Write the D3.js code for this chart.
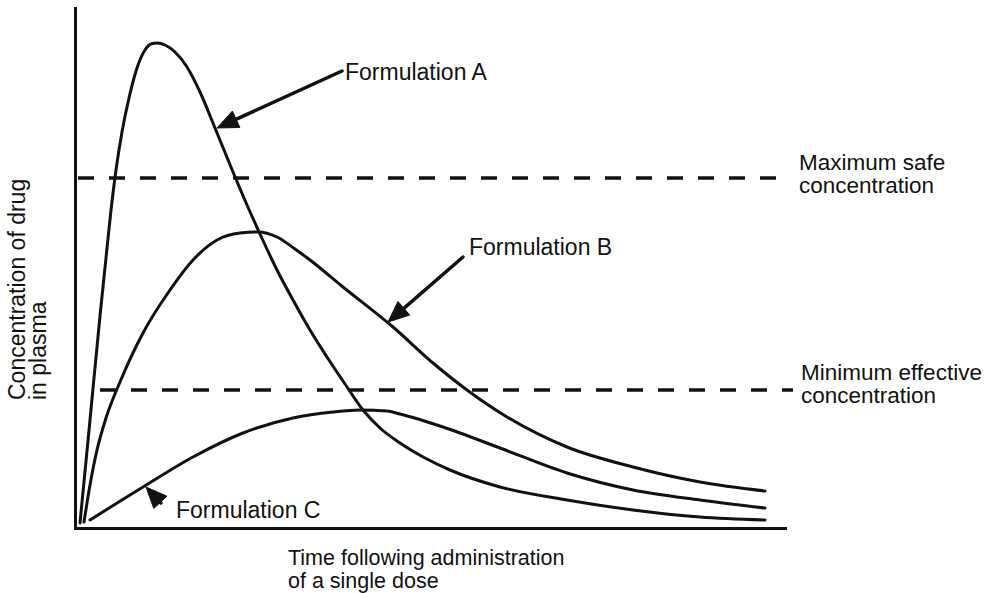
<!DOCTYPE html>
<html>
<head>
<meta charset="utf-8">
<script src="https://cdn.jsdelivr.net/npm/d3@7"></script>
<style>
  html, body { margin: 0; padding: 0; background: #fff; }
  svg { display: block; }
  text { font-family: "Liberation Sans", Arial, Helvetica, sans-serif; font-size: 22px; fill: #111; }
  .callout { font-size: 23px; }
  .threshold-label { font-size: 22.5px; }
  .y-title { font-size: 23px; }
  .x-title { font-size: 21.5px; }
</style>
</head>
<body>
<svg id="chart" width="993" height="593"></svg>
<script>
// Plasma concentration vs time after a single dose, [time, concentration] in arbitrary units
const formulationA = [
  [0.5, 0.5], [1.5, 10.8], [2.5, 21.2], [3.1, 27.0], [3.6, 31.8], [4.1, 35.8],
  [4.7, 39.6], [5.4, 43.0], [6.2, 46.0], [7.0, 47.8], [7.6, 48.4], [8.2, 48.5],
  [9.0, 48.3], [10.0, 47.6], [11.2, 46.1], [12.5, 43.6], [14.0, 40.0], [15.8, 35.6],
  [17.2, 32.3], [18.5, 29.4], [20.2, 25.8], [21.8, 22.8], [23.5, 19.8], [25.2, 17.1],
  [27.0, 14.4], [28.8, 11.8], [30.5, 10.0], [32.5, 8.5], [35.0, 7.0], [37.5, 5.8],
  [42.5, 4.1], [49.2, 2.8], [55.8, 1.8], [62.5, 1.1], [69.0, 0.8]
];
const formulationB = [
  [0.9, 0.6], [1.5, 4.3], [2.2, 7.8], [3.1, 11.0], [4.5, 14.6], [6.8, 19.5],
  [9.5, 23.8], [11.8, 26.8], [14.2, 28.8], [16.5, 29.5], [18.3, 29.6], [20.2, 29.1],
  [22.0, 27.9], [23.5, 26.8], [26.8, 24.1], [31.8, 20.1], [35.8, 16.5], [39.2, 13.8],
  [43.2, 11.1], [49.2, 8.1], [55.8, 6.1], [62.5, 4.6], [69.0, 3.7]
];
const formulationC = [
  [1.5, 0.8], [6.8, 4.1], [11.8, 7.1], [16.8, 9.5], [21.8, 11.0], [25.8, 11.6],
  [28.5, 11.8], [31.2, 11.7], [32.5, 11.4], [36.8, 10.1], [42.5, 8.0], [49.2, 5.5],
  [55.8, 3.8], [62.5, 2.8], [69.0, 2.0]
];

// Therapeutic window limits and the span each dashed line covers
const thresholds = [
  { level: 35.0, from: 0.3, to: 70.7, label: ["Maximum safe", "concentration"], labelAt: [72.4, 35.8] },
  { level: 13.8, from: 2.5, to: 71.8, label: ["Minimum effective", "concentration"], labelAt: [72.6, 14.8] }
];

// Callouts: text position, arrow tail and arrow tip (on the curve)
const callouts = [
  { text: "Formulation A", at: [27.0, 44.8], tail: [26.7, 45.7], tip: [14.2, 40.0] },
  { text: "Formulation B", at: [39.4, 27.3], tail: [38.8, 27.1], tip: [31.3, 20.6] },
  { text: "Formulation C", at: [10.1, 1.0], tail: [8.6, 2.5], tip: [7.1, 4.1] }
];

const xTitle = ["Time following administration", "of a single dose"];
const yTitle = ["Concentration of drug", "in plasma"];

const svg = d3.select("#chart");
const ink = "#111";

svg.append("rect").attr("width", 993).attr("height", 593).attr("fill", "#fff");

const x = d3.scaleLinear().domain([0, 71]).range([75, 785]);
const y = d3.scaleLinear().domain([0, 52]).range([528, 8]);

// Axes: bare lines, no ticks
const xAxis = svg.append("g").attr("transform", `translate(0,${y(0)})`)
  .call(d3.axisBottom(x).tickValues([]).tickSizeOuter(0));
const yAxis = svg.append("g").attr("transform", `translate(${x(0)},0)`)
  .call(d3.axisLeft(y).tickValues([]).tickSizeOuter(0));
[xAxis, yAxis].forEach(g => g.select(".domain")
  .attr("stroke", ink).attr("stroke-width", 3).attr("stroke-linecap", "square"));

// Dashed threshold lines
svg.selectAll(".threshold").data(thresholds).join("line")
  .attr("class", "threshold")
  .attr("x1", d => x(d.from)).attr("x2", d => x(d.to))
  .attr("y1", d => y(d.level)).attr("y2", d => y(d.level))
  .attr("stroke", ink).attr("stroke-width", 3.5)
  .attr("stroke-dasharray", "16,15");

svg.selectAll(".threshold-label").data(thresholds).join("text")
  .attr("class", "threshold-label")
  .attr("x", d => x(d.labelAt[0])).attr("y", d => y(d.labelAt[1]))
  .selectAll("tspan").data(d => d.label.map(s => ({ s, x: x(d.labelAt[0]) })))
  .join("tspan")
  .attr("x", d => d.x).attr("dy", (d, i) => i === 0 ? 0 : 23)
  .text(d => d.s);

// Concentration curves
const line = d3.line().x(d => x(d[0])).y(d => y(d[1])).curve(d3.curveMonotoneX);
svg.selectAll(".curve").data([formulationA, formulationB, formulationC]).join("path")
  .attr("class", "curve")
  .attr("d", line)
  .attr("fill", "none").attr("stroke", ink).attr("stroke-width", 3)
  .attr("stroke-linecap", "round").attr("stroke-linejoin", "round");

// Callout arrows with filled heads
const headLen = 21, headHalf = 9;
callouts.forEach(c => {
  const tx = x(c.tail[0]), ty = y(c.tail[1]);
  const px = x(c.tip[0]), py = y(c.tip[1]);
  const len = Math.hypot(px - tx, py - ty);
  const ux = (px - tx) / len, uy = (py - ty) / len;
  const bx = px - ux * headLen, by = py - uy * headLen;
  if (len > headLen) {
    svg.append("line")
      .attr("x1", tx).attr("y1", ty).attr("x2", bx + ux * 2).attr("y2", by + uy * 2)
      .attr("stroke", ink).attr("stroke-width", 3.5).attr("stroke-linecap", "round");
  }
  svg.append("path")
    .attr("d", `M${px},${py}L${bx - uy * headHalf},${by + ux * headHalf}L${bx + uy * headHalf},${by - ux * headHalf}Z`)
    .attr("fill", ink).attr("stroke", ink).attr("stroke-width", 1).attr("stroke-linejoin", "round");
  svg.append("text").attr("class", "callout").attr("x", x(c.at[0])).attr("y", y(c.at[1])).text(c.text);
});

// Axis titles
const xt = svg.append("text").attr("class", "x-title").attr("x", 288).attr("y", 565);
xt.selectAll("tspan").data(xTitle).join("tspan")
  .attr("x", 288).attr("dy", (d, i) => i === 0 ? 0 : 23).text(d => d);

const yt = svg.append("text").attr("class", "y-title").attr("transform", "translate(25,400) rotate(-90)");
yt.selectAll("tspan").data(yTitle).join("tspan")
  .attr("x", 0).attr("dy", (d, i) => i === 0 ? 0 : 21).text(d => d);
</script>
</body>
</html>
